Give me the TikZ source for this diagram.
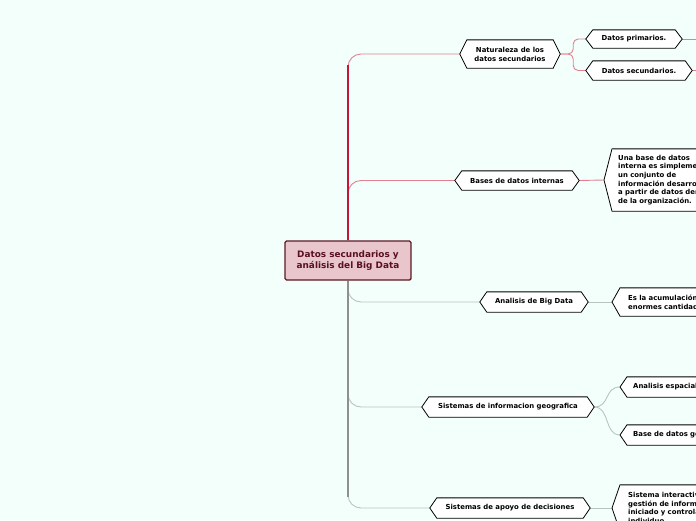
\documentclass[tikz,border=0pt]{standalone}
\usepackage{fontspec}
\setmainfont{DejaVu Sans}
\usetikzlibrary{calc,backgrounds}
\definecolor{bgc}{RGB}{242,255,251}
\definecolor{redtr}{RGB}{200,20,55}
\definecolor{pinkl}{RGB}{226,128,145}
\definecolor{graytr}{RGB}{143,143,143}
\definecolor{grayl}{RGB}{184,196,192}
\definecolor{cfill}{RGB}{232,198,203}
\definecolor{cdraw}{RGB}{92,26,38}
\definecolor{ctext}{RGB}{90,16,32}
\pgfdeclarelayer{bg}
\pgfdeclarelayer{hexl}
\pgfsetlayers{bg,hexl,main}
\tikzset{
  hx/.style={inner sep=0pt, font=\fontsize{6.9}{9}\selectfont\bfseries, align=center},
  hxl/.style={inner xsep=7pt, inner ysep=0pt, font=\fontsize{6.9}{8.6}\selectfont\bfseries, align=left, anchor=west, text width=165pt},
  pinkthin/.style={draw=pinkl, line width=0.9pt},
  redthick/.style={draw=redtr, line width=2.6pt},
  graythin/.style={draw=grayl, line width=0.9pt},
  graythick/.style={draw=graytr, line width=2.6pt},
  hexline/.style={fill=white, draw=black, line width=0.8pt, line join=miter},
}
\begin{document}
\begin{tikzpicture}[x=1pt,y=-1pt]
\begin{pgfonlayer}{bg}
\fill[bgc] (0,0) rectangle (696,520);
\end{pgfonlayer}
\useasboundingbox (0,0) rectangle (696,520);
\clip (0,0) rectangle (696,520);

% central node
\node[draw=cdraw, fill=cfill, line width=1.4pt, rounded corners=1.5pt, minimum width=126, minimum height=39, inner sep=0pt, align=center, text=ctext, font=\fontsize{8.9}{11}\selectfont\bfseries] (c) at (348,260.5) {Datos secundarios y\\análisis del Big Data};

% branch nodes
\node[hx, minimum width=86, minimum height=28] (n1) at (510,54) {Naturaleza de los\\datos secundarios};
\node[hx, minimum width=82, minimum height=18] (n2) at (634,39) {Datos primarios.};
\node[hx, minimum width=92, minimum height=19] (n3) at (639,70.5) {Datos secundarios.};
\node[hx, minimum width=110, minimum height=19] (n4) at (517,180.5) {Bases de datos internas};
\node[hxl, inner xsep=6pt, minimum height=62] (n5) at (612,180) {Una base de datos\\interna es simplemente\\un conjunto de\\información desarrollada\\a partir de datos dentro\\de la organización.};
\node[hx, minimum width=94, minimum height=20] (n6) at (534,302) {Analisis de Big Data};
\node[hxl, inner xsep=8pt, minimum height=28] (n7) at (620,302) {Es la acumulación y análisis de\\enormes cantidades de datos.};
\node[hx, minimum width=158, minimum height=20] (n8) at (508,407) {Sistemas de informacion geografica};
\node[hxl, inner xsep=6pt, minimum height=20] (n9) at (627,387) {Analisis espacial};
\node[hxl, inner xsep=6pt, minimum height=20] (n10) at (627,435) {Base de datos geografica};
\node[hx, minimum width=146, minimum height=20] (n11) at (510,508) {Sistemas de apoyo de decisiones};
\node[hxl, inner xsep=8pt, minimum height=46] (n12) at (620,508) {Sistema interactivo de\\gestión de información\\iniciado y controlado por el\\individuo.};

% hexagon outlines
\begin{pgfonlayer}{hexl}
\foreach \n/\o in {n1/7,n2/7,n3/7,n4/7,n5/8,n6/7,n7/8,n8/7,n9/7,n10/7,n11/7,n12/8} {
  \path[hexline] (\n.north west) -- (\n.north east) -- ([xshift=\o pt]\n.east) -- (\n.south east) -- (\n.south west) -- ([xshift=-\o pt]\n.west) -- cycle;
  \draw[gray!70, line width=0.9pt] ([yshift=-0.9pt]\n.north west) -- ([yshift=-0.9pt]\n.north east);
}
\end{pgfonlayer}

% connectors
\begin{pgfonlayer}{bg}
\draw[pinkthin, rounded corners=13pt] (c.north) |- ([xshift=-7pt]n1.west);
\draw[pinkthin, rounded corners=13pt] (c.north) |- ([xshift=-7pt]n4.west);
\draw[redthick] (c.north) -- ([yshift=-11pt]c.north |- n1.west);
\draw[graythin, rounded corners=13pt] (c.south) |- ([xshift=-7pt]n6.west);
\draw[graythin, rounded corners=13pt] (c.south) |- ([xshift=-7pt]n8.west);
\draw[graythin, rounded corners=13pt] (c.south) |- ([xshift=-7pt]n11.west);
\draw[graythick] (c.south) -- ([yshift=11pt]c.south |- n11.west);

\draw[pinkthin, rounded corners=5pt] ([xshift=7pt]n1.east) -- ++(13,0) |- ([xshift=-7pt]n2.west);
\draw[pinkthin, rounded corners=5pt] ([xshift=7pt]n1.east) -- ++(13,0) |- ([xshift=-7pt]n3.west);
\draw[pinkthin] ([xshift=7pt]n2.east) -- ++(40,0);
\draw[pinkthin] ([xshift=7pt]n3.east) -- ++(40,0);
\draw[pinkthin] ([xshift=7pt]n4.east) -- ([xshift=-8pt]n5.west);
\draw[graythin] ([xshift=7pt]n6.east) -- ([xshift=-8pt]n7.west);
\draw[graythin] ([xshift=7pt]n8.east) .. controls +(16,0) and +(-16,0) .. ([xshift=-7pt]n9.west);
\draw[graythin] ([xshift=7pt]n8.east) .. controls +(16,0) and +(-16,0) .. ([xshift=-7pt]n10.west);
\draw[graythin] ([xshift=7pt]n11.east) -- ([xshift=-8pt]n12.west);
\end{pgfonlayer}
\end{tikzpicture}
\end{document}
